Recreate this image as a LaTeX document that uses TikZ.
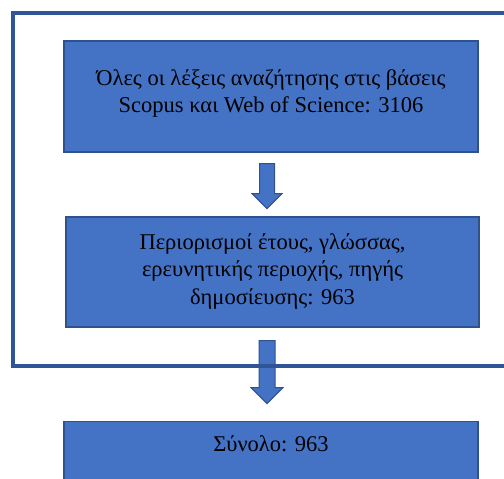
\documentclass[tikz,border=0pt]{standalone}
\usepackage{fontspec}
\setmainfont{Liberation Serif}
\usetikzlibrary{calc}
\definecolor{boxfill}{HTML}{4472C4}
\definecolor{boxline}{HTML}{2F528F}
\definecolor{frameline}{HTML}{2F5597}
\tikzset{
  box/.style={draw=boxline, line width=1.2bp, fill=boxfill, minimum width=414bp, inner sep=0pt},
  txt/.style={align=center, font=\fontsize{22.5bp}{27.5bp}\selectfont, text=black, inner sep=0pt},
  blockarrow/.style={draw=boxline, line width=1bp, fill=boxfill, line join=miter},
  frame/.style={draw=frameline, line width=4bp}
}
\begin{document}
\begin{tikzpicture}[x=1bp,y=-1bp]
\useasboundingbox (0,0) rectangle (504,479);
\begin{scope}
\clip (0,0) rectangle (504,479);
\node[box, minimum height=111bp] (b1) at (271,96.5) {};
\node[txt] (t1) at ($(b1.center)+(0,-3)$) {Όλες οι λέξεις αναζήτησης στις βάσεις\\Scopus και Web of Science: 3106};
\node[box, minimum width=413bp, minimum height=110bp] (b2) at (272.5,272) {};
\node[txt] (t2) at ($(b2.center)+(0,-1)$) {Περιορισμοί έτους, γλώσσας,\\ερευνητικής περιοχής, πηγής\\δημοσίευσης: 963};
\node[box, minimum height=90bp, anchor=north] (b3) at (271,421) {};
\node[txt] (t3) at ($(b3.north)+(0,23)$) {Σύνολο: 963};
% arrow 1
\coordinate (a1) at ($(b1.south)+(-4,11)$);
\draw[blockarrow] ($(a1)+(-7.5,0)$) -- ($(a1)+(7.5,0)$) -- ($(a1)+(7.5,30)$) -- ($(a1)+(15,30)$)
  -- ($(a1)+(0,45)$) -- ($(a1)+(-15,30)$) -- ($(a1)+(-7.5,30)$) -- cycle;
% arrow 2
\coordinate (a2) at ($(b2.south)+(-5.5,13)$);
\draw[blockarrow] ($(a2)+(-8,0)$) -- ($(a2)+(8,0)$) -- ($(a2)+(8,47)$) -- ($(a2)+(16,47)$)
  -- ($(a2)+(0,63)$) -- ($(a2)+(-16,47)$) -- ($(a2)+(-8,47)$) -- cycle;
% frame
\draw[frame] (520,366) -- (13,366) -- (13,13) -- (520,13);
\end{scope}
\end{tikzpicture}
\end{document}
